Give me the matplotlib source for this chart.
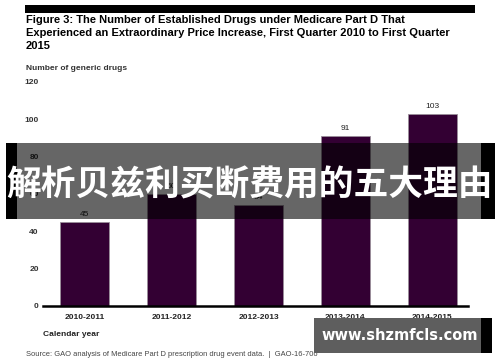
import matplotlib.pyplot as plt
from matplotlib.patches import Rectangle

plt.rcParams['font.family'] = ['Liberation Sans', 'DejaVu Sans']

# data (bars 2 and 3 are partly hidden by the banner)
periods = ['2010-2011', '2011-2012', '2012-2013', '2013-2014', '2014-2015']
drugs = [45, 60, 54, 91, 103]
y_ticks = [0, 20, 40, 60, 80, 100, 120]

title = ('Figure 3: The Number of Established Drugs under Medicare Part D That\n'
         'Experienced an Extraordinary Price Increase, First Quarter 2010 to First Quarter\n'
         '2015')
source = 'Source: GAO analysis of Medicare Part D prescription drug event data.  |  GAO-16-706'
banner = '解析贝兹利买断费用的五大理由'
site = 'www.shzmfcls.com'

W, H = 500, 362
fig = plt.figure(figsize=(W / 100, H / 100), dpi=100)


def fx(px):
    return px / W


def fy(py):
    return 1 - py / H


def box(x0, y0, x1, y1, **kw):
    # rectangle given in picture pixels, top-left origin
    fig.patches.append(Rectangle((fx(x0), fy(y1)), fx(x1) - fx(x0), fy(y0) - fy(y1),
                                 transform=fig.transFigure, linewidth=0, **kw))


ax = fig.add_axes([fx(43), fy(306), fx(468) - fx(43), fy(82) - fy(306)])
ax.bar(range(len(periods)), drugs, width=0.56, color='#330033',
       edgecolor='#9a8f9a', linewidth=0.6, zorder=2)
for i, v in enumerate(drugs):
    ax.annotate(str(v), (i, v), xytext=(0, 3), textcoords='offset points',
                ha='center', va='bottom', fontsize=6, color='#222222')

ax.set_xlim(-0.48, 4.41)
ax.set_ylim(0, 120)
ax.set_yticks(y_ticks)
ax.set_yticklabels([str(t) for t in y_ticks], fontsize=6, fontweight='bold', color='#333333')
ax.set_xticks(range(len(periods)))
ax.set_xticklabels(periods, fontsize=6, fontweight='bold', color='#222222')
ax.tick_params(axis='both', length=0)
ax.tick_params(axis='y', pad=3)
ax.tick_params(axis='x', pad=6)
for s in ['top', 'right', 'left']:
    ax.spines[s].set_visible(False)
ax.spines['bottom'].set_linewidth(1.8)
ax.spines['bottom'].set_zorder(3)

# page header bar and texts
box(25, 5, 475, 13, color='black')
fig.text(fx(26), fy(15), title, ha='left', va='top', fontsize=8,
         fontweight='bold', linespacing=1.35)
fig.text(fx(26), fy(68), 'Number of generic drugs', ha='left', va='center',
         fontsize=6, fontweight='bold', color='#333333')
fig.text(fx(43), fy(334), 'Calendar year', ha='left', va='center',
         fontsize=6, fontweight='bold', color='#222222')
fig.text(fx(26), fy(354), source, ha='left', va='center', fontsize=5.4, color='#444444')

# watermark banner across the middle
box(6, 143, 17, 219, color='black', zorder=5)
box(481, 143, 495, 219, color='black', zorder=5)
box(17, 143, 481, 219, color='black', alpha=0.6, zorder=6)
fig.text(0.5, fy(185), banner, ha='center', va='center', fontsize=25, fontweight='bold',
         color='white', family=['Noto Sans CJK SC', 'DejaVu Sans'], zorder=7)

# site box at the bottom right
box(314, 318, 492, 353, color='black', zorder=5)
box(314, 318, 481, 353, color='#5e5e5e', zorder=6)
fig.text(fx(400), fy(336), site, ha='center', va='center', fontsize=10.5, fontweight='bold',
         color='white', family=['DejaVu Sans'], zorder=7)

fig.savefig('out.png', dpi=100)
